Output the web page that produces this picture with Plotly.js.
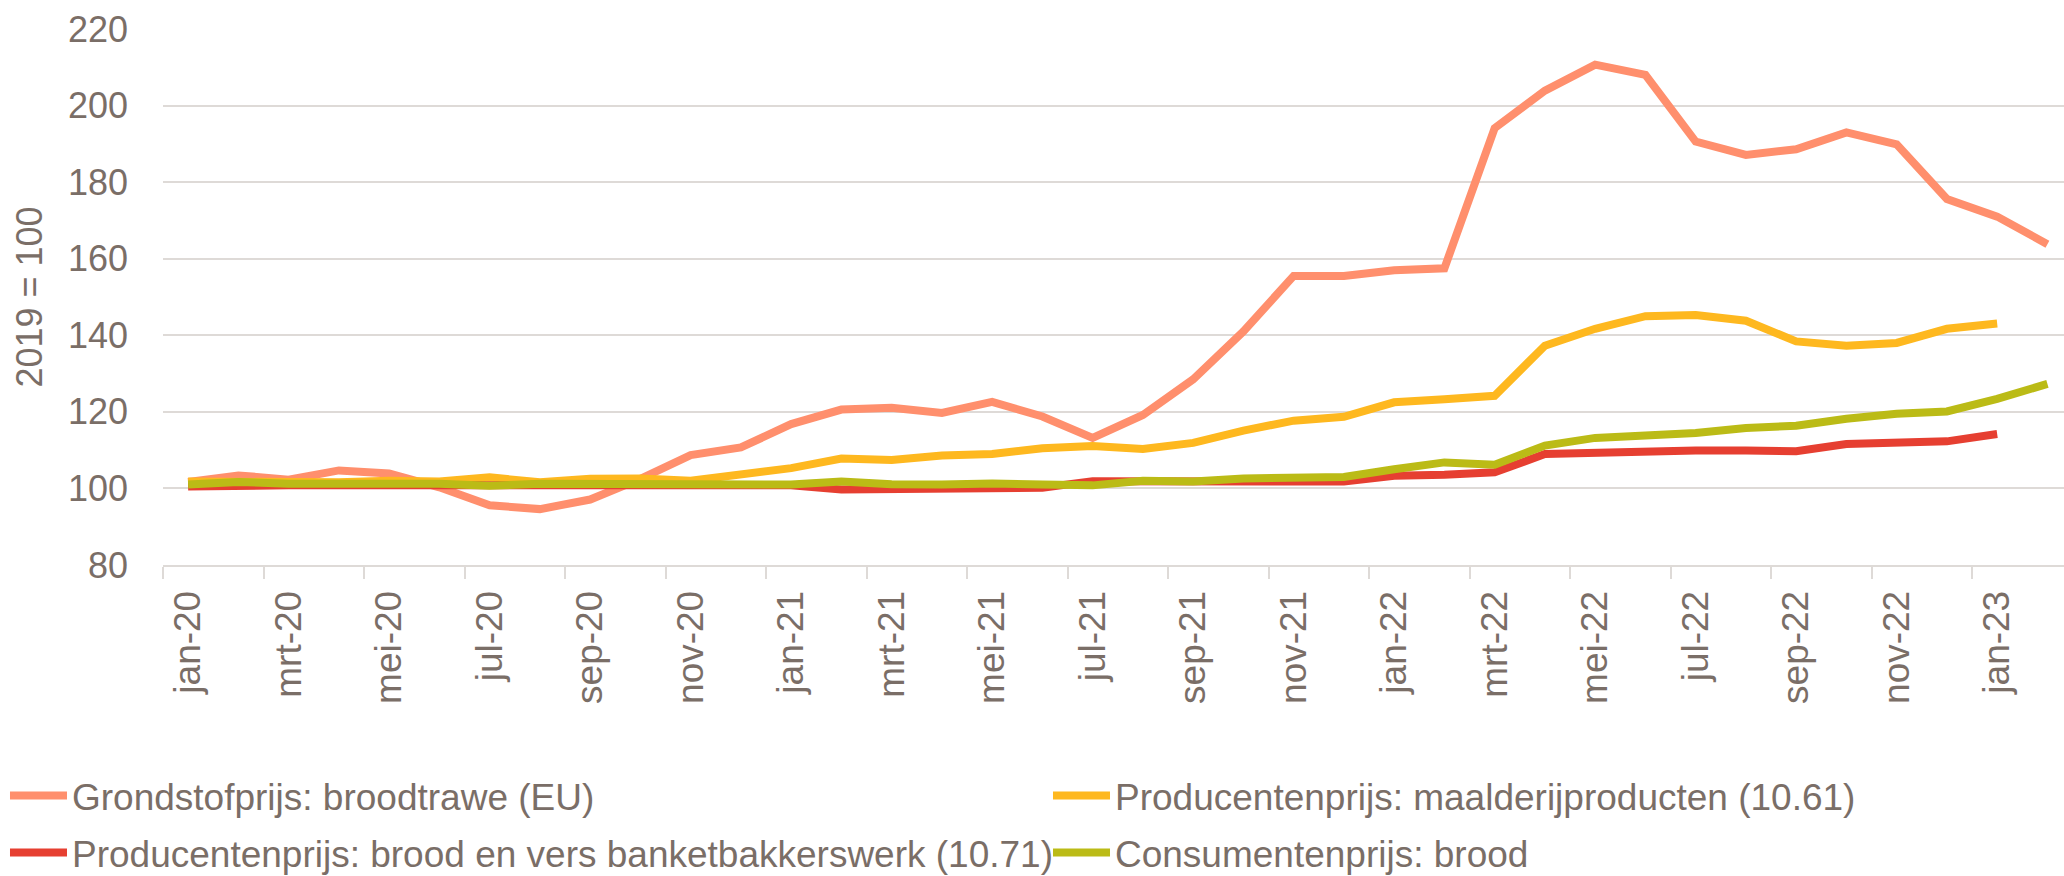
<!DOCTYPE html>
<html>
<head>
<meta charset="utf-8">
<script src="https://cdn.plot.ly/plotly-3.0.1.min.js"></script>
<style>
  html, body { margin: 0; padding: 0; background: #ffffff; }
  #chart { width: 2064px; height: 876px; }
</style>
</head>
<body>
<div id="chart"></div>
<script>
const months = [
  'jan-20','feb-20','mrt-20','apr-20','mei-20','jun-20','jul-20','aug-20','sep-20','okt-20','nov-20','dec-20',
  'jan-21','feb-21','mrt-21','apr-21','mei-21','jun-21','jul-21','aug-21','sep-21','okt-21','nov-21','dec-21',
  'jan-22','feb-22','mrt-22','apr-22','mei-22','jun-22','jul-22','aug-22','sep-22','okt-22','nov-22','dec-22',
  'jan-23','feb-23'
];

const grondstofBroodtarwe = [
  101.7, 103.4, 102.3, 104.7, 103.9, 100.3, 95.6, 94.6, 97.1, 102.5, 108.7, 110.7,
  116.8, 120.6, 121.1, 119.7, 122.6, 118.8, 113.2, 119.2, 128.5, 141.0, 155.5, 155.5,
  157.0, 157.5, 194.1, 203.9, 210.7, 208.0, 190.6, 187.1, 188.6, 193.0, 189.9, 175.6,
  171.0, 163.8
];

const producentMaalderij = [
  101.8, 101.8, 101.4, 101.6, 102.0, 101.8, 102.9, 101.6, 102.5, 102.6, 102.0, 103.8,
  105.3, 107.8, 107.4, 108.6, 109.0, 110.5, 111.1, 110.3, 111.9, 115.1, 117.7, 118.7,
  122.5, 123.3, 124.2, 137.3, 141.7, 145.0, 145.3, 143.8, 138.4, 137.3, 138.0, 141.7,
  143.1, null
];

const producentBrood = [
  100.5, 100.9, 100.8, 100.8, 100.8, 100.8, 100.8, 100.8, 100.8, 100.8, 100.8, 100.6,
  100.8, 99.7, 99.7, 99.8, 100.0, 100.2, 101.9, 102.0, 102.0, 101.8, 101.8, 101.8,
  103.3, 103.6, 104.2, 109.0, 109.3, 109.9, 109.9, 109.9, 109.7, 111.6, 112.1, 112.3,
  114.2, null
];

const consumentBrood = [
  101.0, 101.7, 101.2, 101.0, 101.2, 101.2, 100.7, 101.2, 101.2, 101.3, 101.2, 100.8,
  101.0, 101.8, 101.1, 101.0, 101.3, 101.0, 100.8, 102.0, 101.8, 102.6, 102.7, 103.0,
  105.0, 106.8, 106.2, 111.2, 113.2, 113.9, 114.5, 115.8, 116.4, 118.2, 119.5, 120.1,
  123.4, 127.3
];

const seriesNames = [
  'Grondstofprijs: broodtrawe (EU)',
  'Producentenprijs: maalderijproducten (10.61)',
  'Producentenprijs: brood en vers banketbakkerswerk (10.71)',
  'Consumentenprijs: brood'
];

const yTicks = [80, 100, 120, 140, 160, 180, 200, 220];

const textColor = '#7a6e67';
const gridColor = '#dedad7';
const fontFamily = '"Liberation Sans", Arial, sans-serif';

function lineTrace(name, values, color, legendId, legendWidth) {
  return {
    type: 'scatter',
    mode: 'lines',
    name: name,
    x: months,
    y: values,
    line: { color: color, width: 8 },
    connectgaps: false,
    legend: legendId,
    legendwidth: legendWidth,
    hoverinfo: 'x+y+name'
  };
}

const data = [
  lineTrace(seriesNames[0], grondstofBroodtarwe, '#ff8f6d', 'legend', 971),
  lineTrace(seriesNames[1], producentMaalderij, '#feb81f', 'legend', 765),
  lineTrace(seriesNames[2], producentBrood, '#e63f31', 'legend2', 971),
  lineTrace(seriesNames[3], consumentBrood, '#bbbb16', 'legend2', 460)
];

const legendBase = {
  orientation: 'h',
  x: 0.00242,
  xanchor: 'left',
  xref: 'container',
  yref: 'container',
  yanchor: 'middle',
  itemwidth: 57,
  bgcolor: 'rgba(0,0,0,0)',
  borderwidth: 0,
  font: { family: fontFamily, size: 37, color: textColor },
  traceorder: 'normal'
};

const layout = {
  width: 2064,
  height: 876,
  margin: { l: 163, r: 0, t: 29, b: 311, pad: 0 },
  paper_bgcolor: '#ffffff',
  plot_bgcolor: '#ffffff',
  font: { family: fontFamily, size: 36, color: textColor },
  showlegend: true,
  legend: Object.assign({}, legendBase, { y: 0.0913 }),
  legend2: Object.assign({}, legendBase, { y: 0.0263 }),
  xaxis: {
    type: 'category',
    categoryorder: 'array',
    categoryarray: months,
    range: [-0.5, 37.33],
    tickmode: 'linear',
    tick0: 0,
    dtick: 2,
    tickson: 'boundaries',
    ticks: 'outside',
    ticklen: 12,
    tickwidth: 2,
    tickcolor: gridColor,
    tickangle: -90,
    ticklabelstandoff: 9,
    tickfont: { family: fontFamily, size: 37, color: textColor },
    showgrid: false,
    showline: true,
    linecolor: gridColor,
    linewidth: 2,
    zeroline: false,
    automargin: false,
    fixedrange: true
  },
  yaxis: {
    range: [80, 220],
    tickmode: 'array',
    tickvals: yTicks,
    ticktext: yTicks.map(String),
    ticks: '',
    ticklabelstandoff: 34,
    tickfont: { family: fontFamily, size: 36, color: textColor },
    showgrid: true,
    gridcolor: gridColor,
    gridwidth: 2,
    zeroline: false,
    showline: false,
    automargin: false,
    fixedrange: true,
    title: {
      text: '2019 = 100',
      font: { family: fontFamily, size: 36, color: textColor },
      standoff: 14
    }
  }
};

Plotly.newPlot('chart', data, layout, { displayModeBar: false, responsive: false, staticPlot: true });
</script>
</body>
</html>
